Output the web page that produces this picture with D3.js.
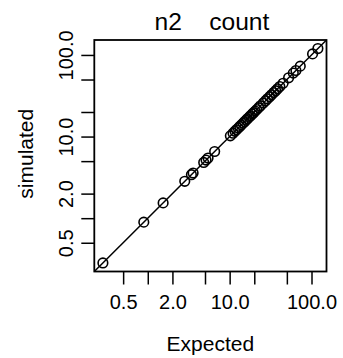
<!DOCTYPE html>
<html>
<head>
<meta charset="utf-8">
<script src="https://cdn.jsdelivr.net/npm/d3@7"></script>
<style>
html,body{margin:0;padding:0;background:#fff;}
svg text{font-family:"Liberation Sans",Arial,sans-serif;fill:#000;}
</style>
</head>
<body>
<svg id="chart" width="343" height="358"></svg>
<script>
const titleText = "n2    count";
const xTitle = "Expected";
const yTitle = "simulated";
const tickValues = [0.5, 1, 2, 5, 10, 20, 50, 100];
const tickLabels = ["0.5", "1.0", "2.0", "5.0", "10.0", "20.0", "50.0", "100.0"];
const shownLabels = ["0.5", "2.0", "10.0", "100.0"];
const expected = [0.283, 0.894, 1.54, 2.83, 3.41, 3.58, 4.82, 5.15, 5.45, 6.56, 10.2,
  11.0, 11.6, 12.1, 12.7, 13.3, 13.9, 14.6, 15.2, 15.9, 16.5, 17.3, 18.0, 18.9, 19.6,
  20.5, 21.4, 22.6, 23.8, 25.8, 27.5, 29.0, 30.8, 32.5, 34.6, 36.5, 38.5, 41.0, 45.0,
  52.5, 59.9, 64.5, 72.9, 103, 119.7];
const simulated = [0.283, 0.894, 1.54, 2.83, 3.41, 3.58, 4.82, 5.15, 5.45, 6.56, 10.2,
  11.0, 11.6, 12.1, 12.7, 13.3, 13.9, 14.6, 15.2, 15.9, 16.5, 17.3, 18.0, 18.9, 19.6,
  20.5, 21.4, 22.6, 23.8, 25.8, 27.5, 29.0, 30.8, 32.5, 34.6, 36.5, 38.5, 41.0, 45.0,
  52.5, 59.9, 64.5, 72.9, 103, 119.7];

const L = 94.3, R = 326.5, T = 40, B = 271.5;
function logDomain(arr){
  const e = d3.extent(arr).map(Math.log10);
  const pad = (e[1]-e[0])*0.04;
  return [Math.pow(10, e[0]-pad), Math.pow(10, e[1]+pad)];
}
const x = d3.scaleLog().domain(logDomain(expected)).range([L, R]);
const y = d3.scaleLog().domain(logDomain(simulated)).range([B, T]);

const svg = d3.select("#chart");

const fmt = v => { const i = tickValues.indexOf(v); const s = tickLabels[i]; return shownLabels.includes(s) ? s : ""; };
const xAxis = svg.append("g").attr("transform", `translate(0,${B})`)
  .call(d3.axisBottom(x).tickValues(tickValues).tickFormat(fmt).tickSize(13).tickPadding(7));
xAxis.select(".domain").remove();
xAxis.selectAll(".tick line").attr("stroke", "#000").attr("stroke-width", 1.5);
xAxis.selectAll(".tick text").attr("font-size", 20).attr("font-family", "Liberation Sans, Arial, sans-serif").attr("dy", null).attr("y", 0)
  .attr("transform", "translate(0,37.5)");

const yAxis = svg.append("g").attr("transform", `translate(${L},0)`)
  .call(d3.axisLeft(y).tickValues(tickValues).tickFormat(fmt).tickSize(13).tickPadding(7));
yAxis.select(".domain").remove();
yAxis.selectAll(".tick line").attr("stroke", "#000").attr("stroke-width", 1.5);
yAxis.selectAll(".tick text").attr("font-size", 20).attr("font-family", "Liberation Sans, Arial, sans-serif")
  .attr("x", 0).attr("dy", null).attr("text-anchor", "middle")
  .attr("transform", "translate(-21,0) rotate(-90)");

const dom = x.domain();
svg.append("line")
  .attr("x1", x(dom[0])).attr("y1", y(dom[0]))
  .attr("x2", x(dom[1])).attr("y2", y(dom[1]))
  .attr("stroke", "#000").attr("stroke-width", 1.5);

svg.append("g").selectAll("circle").data(expected).join("circle")
  .attr("cx", (d) => x(d)).attr("cy", (d, i) => y(simulated[i]))
  .attr("r", 4.8).attr("fill", "none").attr("stroke", "#000").attr("stroke-width", 1.6);

svg.append("rect").attr("x", L).attr("y", T).attr("width", R-L).attr("height", B-T)
  .attr("fill", "none").attr("stroke", "#000").attr("stroke-width", 1.8);

svg.append("text").attr("x", (L+R)/2 + 1.5).attr("y", 30).attr("text-anchor", "middle")
  .attr("font-size", 24.6).attr("xml:space", "preserve").style("white-space", "pre").text(titleText);
svg.append("text").attr("x", (L+R)/2).attr("y", 350.7).attr("text-anchor", "middle")
  .attr("font-size", 21).text(xTitle);
svg.append("text").attr("transform", `translate(33,${(T+B)/2 - 2}) rotate(-90)`).attr("text-anchor", "middle")
  .attr("font-size", 21).text(yTitle);
</script>
</body>
</html>
